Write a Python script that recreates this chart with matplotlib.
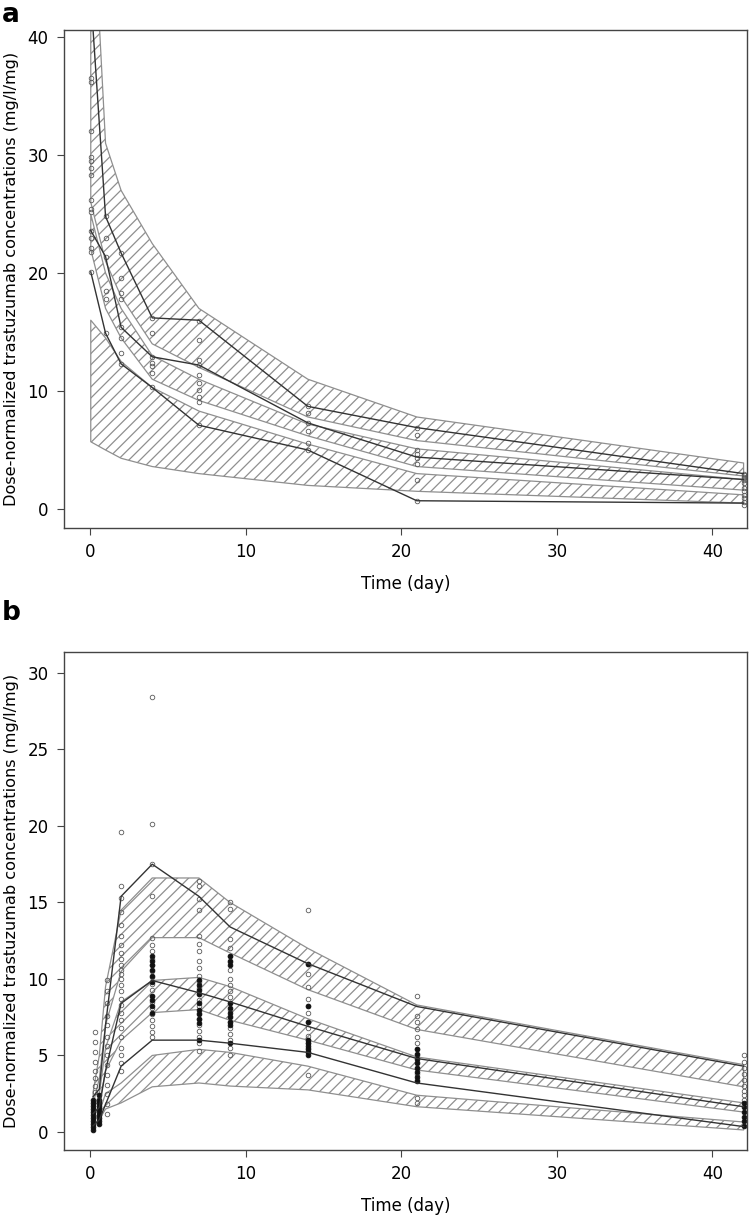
import matplotlib
matplotlib.use("Agg")
from matplotlib import pyplot as plt

plt.rcParams["font.family"] = ["DejaVu Sans"]
plt.rcParams["hatch.linewidth"] = 0.9

LINE = "#333333"
BAND = "#8f8f8f"
PT = "#5a5a5a"

# ---------------- panel a data ----------------
a_time = [0.05, 1, 2, 4, 7, 14, 21, 42]

# observed percentiles (5th, median, 95th)
a_obs_hi = [43.5, 24.8, 21.7, 16.2, 16.0, 8.7, 6.9, 3.0]
a_obs_md = [23.6, 21.4, 15.4, 12.9, 12.2, 7.3, 4.4, 2.5]
a_obs_lo = [20.1, 14.9, 12.3, 10.3, 7.1, 5.0, 0.7, 0.5]

# simulated prediction intervals (hatched)
a_up_top = [55, 31, 27, 22.5, 17, 11, 7.8, 3.9]
a_up_bot = [26, 21, 18, 14, 12, 7.8, 5.8, 2.8]
a_md_top = [25, 20, 17, 13, 11, 7.2, 5.1, 2.5]
a_md_bot = [22, 17, 14.5, 11, 9.2, 6.2, 3.6, 1.6]
a_lo_top = [16, 14.5, 12.5, 10.3, 8.3, 5.5, 3.0, 1.2]
a_lo_bot = [5.7, 5.0, 4.3, 3.6, 3.0, 2.0, 1.5, 0.5]

# observations
a_pts = {
    0.05: [36.5, 36.2, 32.0, 29.8, 29.5, 28.9, 28.3, 26.2, 25.4, 25.2, 23.6, 23.0, 22.1, 21.8, 20.1],
    1: [24.8, 23.0, 21.4, 18.5, 17.8, 14.9],
    2: [21.7, 19.6, 18.3, 17.8, 15.4, 14.5, 13.2, 12.3],
    4: [16.2, 14.9, 12.9, 12.4, 12.1, 11.5, 10.3],
    7: [15.9, 14.3, 12.6, 12.2, 11.4, 10.7, 10.1, 9.5, 9.1, 7.1],
    14: [8.7, 8.1, 7.3, 6.6, 5.6, 5.0],
    21: [6.9, 6.3, 5.0, 4.7, 4.3, 3.8, 2.5, 0.7],
    42: [3.0, 2.9, 2.7, 2.6, 2.5, 2.2, 1.8, 1.5, 1.2, 0.9, 0.6, 0.3],
}

# ---------------- panel b data ----------------
b_time = [0.2, 0.6, 1, 2, 4, 7, 9, 14, 21, 42]

b_obs_hi = [2.3, 2.8, 7.0, 15.4, 17.5, 15.4, 13.4, 11.0, 8.2, 4.3]
b_obs_md = [1.2, 1.6, 4.0, 8.4, 9.9, 9.1, 8.5, 6.9, 4.8, 1.65]
b_obs_lo = [0.4, 0.8, 1.8, 4.3, 6.0, 6.0, 5.8, 5.2, 3.2, 0.35]

b_up_top = [2.6, 5.0, 9.5, 14.5, 16.6, 16.6, 15.0, 12.0, 8.3, 4.4]
b_up_bot = [1.8, 3.5, 7.0, 10.5, 12.7, 12.7, 11.7, 9.3, 6.7, 2.95]
b_md_top = [1.4, 2.5, 5.5, 8.5, 9.9, 10.1, 9.5, 7.4, 4.9, 1.9]
b_md_bot = [0.9, 1.8, 4.0, 6.0, 7.8, 8.0, 7.3, 6.0, 4.05, 1.3]
b_lo_top = [0.6, 1.3, 2.5, 3.2, 5.0, 5.4, 5.2, 4.3, 2.4, 0.65]
b_lo_bot = [0.3, 0.8, 1.5, 1.9, 2.95, 3.2, 3.0, 2.75, 1.65, 0.13]

b_pts = {
    0.3: [6.5, 5.9, 5.2, 4.6, 4.0, 3.5, 3.0, 2.6],
    1.1: [9.9, 9.2, 8.4, 7.6, 7.0, 6.2, 5.6, 5.0, 4.4, 3.7, 3.1, 2.5, 1.8, 1.2],
    2: [19.6, 16.1, 15.3, 14.4, 13.5, 12.8, 12.2, 11.7, 11.3, 10.9, 10.6, 10.3, 10.0,
        9.6, 9.2, 8.7, 8.3, 7.8, 7.3, 6.8, 6.2, 5.5, 5.0, 4.5, 4.0],
    4: [28.4, 20.1, 17.5, 15.4, 12.7, 12.2, 11.8, 11.3, 10.9, 10.5, 10.1, 9.7, 9.3, 8.9,
        8.5, 8.1, 7.7, 7.3, 6.9, 6.5, 6.2],
    7: [16.4, 16.1, 15.2, 14.5, 12.8, 12.3, 11.8, 11.2, 10.7, 10.2, 9.8, 9.4, 9.0, 8.6,
        8.2, 7.8, 7.4, 7.0, 6.6, 6.2, 5.8, 5.3],
    9: [15.0, 14.6, 12.6, 12.0, 11.5, 11.1, 10.6, 10.0, 9.6, 9.2, 8.8, 8.4, 8.0, 7.6,
        7.2, 6.8, 6.4, 6.0, 5.5, 5.0],
    14: [14.5, 11.0, 10.3, 9.5, 8.7, 8.2, 7.8, 7.2, 6.8, 6.3, 6.0, 5.8, 5.5, 5.2, 3.7],
    21: [8.9, 7.6, 7.2, 6.7, 6.2, 5.8, 5.4, 5.0, 4.6, 4.2, 3.8, 3.4, 2.2, 1.9],
    42: [5.0, 4.6, 4.2, 3.8, 3.4, 3.0, 2.7, 2.4, 2.1],
}
# dense (overlapping) clusters shown as filled dots
b_dense = {
    0.2: [0.1, 0.3, 0.5, 0.7, 0.9, 1.1, 1.3, 1.5, 1.7, 1.9, 2.1],
    0.6: [0.5, 0.7, 0.9, 1.1, 1.3, 1.5, 1.7, 1.9, 2.1, 2.4],
    4: [11.5, 11.2, 10.9, 10.6, 10.2, 9.8, 8.9, 8.6, 8.2, 7.8],
    7: [9.9, 9.6, 9.3, 9.0, 8.4, 8.0, 7.7, 7.4, 7.1, 6.0],
    9: [11.5, 11.2, 10.9, 8.4, 8.1, 7.8, 7.5, 7.2, 7.0, 5.8],
    14: [11.0, 8.2, 7.2, 6.0, 5.8, 5.6, 5.4, 5.2, 5.0],
    21: [5.4, 5.1, 4.8, 4.5, 4.2, 3.9, 3.6, 3.3],
    42: [1.9, 1.6, 1.3, 1.0, 0.7, 0.4],
}


def draw_panel(ax, t, bands, obs, pts, dense=None):
    for top, bot in bands:
        ax.fill_between(t, bot, top, facecolor="none", edgecolor=BAND,
                        hatch="///", linewidth=0.9)
    for k, v in pts.items():
        ax.plot([k] * len(v), v, "o", ms=3.3, mfc="none", mec=PT, mew=0.6)
    if dense:
        for k, v in dense.items():
            ax.plot([k] * len(v), v, "o", ms=3.4, mfc="#111111", mec="#111111", mew=0.6)
    for line in obs:
        ax.plot(t, line, color=LINE, lw=1.0)
    ax.set_xlim(-1.67, 42.22)
    ax.set_xticks([0, 10, 20, 30, 40])
    ax.set_xlabel("Time (day)", fontsize=12, labelpad=10)
    ax.set_ylabel("Dose-normalized trastuzumab concentrations (mg/l/mg)", fontsize=11.6, labelpad=6)
    ax.tick_params(direction="out", length=5, width=0.8, labelsize=12, color="#444444", pad=6)
    for s in ax.spines.values():
        s.set_color("#444444")
        s.set_linewidth(1.0)


fig = plt.figure(figsize=(7.5, 12.2), dpi=100)
ax1 = fig.add_axes([64 / 750, 1 - 528 / 1220, 683 / 750, 498 / 1220])
ax2 = fig.add_axes([64 / 750, 1 - 1150 / 1220, 683 / 750, 498 / 1220])

draw_panel(ax1, a_time,
           [(a_up_top, a_up_bot), (a_md_top, a_md_bot), (a_lo_top, a_lo_bot)],
           [a_obs_hi, a_obs_md, a_obs_lo], a_pts)
ax1.set_ylim(-1.61, 40.6)
ax1.set_yticks([0, 10, 20, 30, 40])

draw_panel(ax2, b_time,
           [(b_up_top, b_up_bot), (b_md_top, b_md_bot), (b_lo_top, b_lo_bot)],
           [b_obs_hi, b_obs_md, b_obs_lo], b_pts, b_dense)
ax2.set_ylim(-1.18, 31.37)
ax2.set_yticks([0, 5, 10, 15, 20, 25, 30])

fig.text(0.003, 0.998, "a", fontsize=19, fontweight="bold", va="top", ha="left")
fig.text(0.003, 0.508, "b", fontsize=19, fontweight="bold", va="top", ha="left")

fig.savefig("out.png", dpi=100)
